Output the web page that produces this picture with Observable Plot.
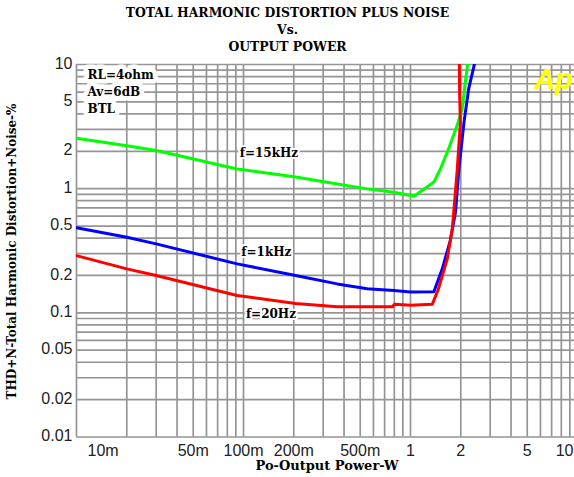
<!DOCTYPE html>
<html><head><meta charset="utf-8">
<script src="https://cdn.jsdelivr.net/npm/d3@7"></script>
<script src="https://cdn.jsdelivr.net/npm/@observablehq/plot@0.6"></script>
<style>body{margin:0;background:#fff;overflow:hidden}</style>
</head><body><div id="chart"></div>
<script>
// f=15kHz
const power15k = [0.01, 0.02, 0.03, 0.0916, 0.205, 0.364, 0.55, 0.794, 1.0, 1.05, 1.38, 1.51, 1.69, 1.90, 2.04, 2.13, 2.2];
const thd15k   = [2.55, 2.22, 2.03, 1.44, 1.24, 1.09, 0.996, 0.935, 0.88, 0.87, 1.13, 1.44, 2.09, 3.22, 4.39, 7.19, 10.2];
// f=1kHz
const power1k = [0.01, 0.02, 0.03, 0.0916, 0.205, 0.364, 0.55, 0.794, 1.0, 1.38, 1.55, 1.73, 1.86, 1.95, 2.09, 2.23, 2.42];
const thd1k   = [0.485, 0.406, 0.359, 0.248, 0.200, 0.171, 0.156, 0.151, 0.147, 0.148, 0.226, 0.382, 0.646, 1.44, 3.42, 6.36, 10.2];
// f=20Hz
const power20 = [0.01, 0.02, 0.03, 0.0916, 0.205, 0.364, 0.78, 0.8, 1.0, 1.35, 1.47, 1.66, 1.78, 1.90, 1.99, 1.97, 1.96];
const thd20   = [0.289, 0.226, 0.200, 0.138, 0.119, 0.112, 0.112, 0.117, 0.115, 0.117, 0.156, 0.272, 0.475, 1.36, 3.42, 5.5, 10.2];

const curveLabels = ["f=15kHz", "f=1kHz", "f=20Hz"];
const curveLabelX = [0.142, 0.137, 0.146];
const curveLabelY = [1.92, 0.308, 0.0968];

const xTicks = [0.05, 0.1, 0.2, 0.5, 1, 2, 5];
const xTickLabels = ["50m", "100m", "200m", "500m", "1", "2", "5"];
const xEdgeTicks = [0.01, 10];
const xEdgeLabels = ["10m", "10"];
const yTicks = [0.01, 0.02, 0.05, 0.1, 0.2, 0.5, 1, 2, 5, 10];
const yTickLabels = ["0.01", "0.02", "0.05", "0.1", "0.2", "0.5", "1", "2", "5", "10"];

const titleLines = ["TOTAL HARMONIC DISTORTION PLUS NOISE", "Vs.", "OUTPUT POWER"];
const notes = "RL=4ohm\nAv=6dB\nBTL";
const xLabel = "Po-Output Power-W";
const yLabel = "THD+N-Total Harmonic Distortion+Noise-%";

const series = [
  ...power15k.map((p, i) => ({p, v: thd15k[i], f: "15k"})),
  ...power1k.map((p, i) => ({p, v: thd1k[i], f: "1k"})),
  ...power20.map((p, i) => ({p, v: thd20[i], f: "20"}))
];
const decadeGrid = [];
for (const base of [0.01, 0.1, 1]) for (let k = 1; k <= 9; k++) decadeGrid.push(+(base * k).toPrecision(3));
decadeGrid.push(10);

const serif = "DejaVu Serif";
const tickFont = {fontFamily: "Liberation Sans", fontSize: 16, fill: "#222"};
const W = 574, H = 477;
const chart = Plot.plot({
  width: W, height: H,
  marginLeft: 76, marginRight: -3, marginTop: 64, marginBottom: 40.5,
  style: {fontFamily: "Liberation Sans, Arial, sans-serif", fontSize: "16px", background: "#fff"},
  x: {type: "log", domain: [0.01, 10], axis: null},
  y: {type: "log", domain: [0.01, 10], axis: null},
  marks: [
    Plot.ruleX(decadeGrid, {stroke: "#959595", strokeWidth: 1.7}),
    Plot.ruleY(decadeGrid, {stroke: "#959595", strokeWidth: 1.7}),
    Plot.line(series.filter(d => d.f === "15k"), {x: "p", y: "v", stroke: "#00ff00", strokeWidth: 3, clip: true}),
    Plot.line(series.filter(d => d.f === "1k"), {x: "p", y: "v", stroke: "#0000ff", strokeWidth: 3, clip: true}),
    Plot.line(series.filter(d => d.f === "20"), {x: "p", y: "v", stroke: "#ff0000", strokeWidth: 3, clip: true}),
    // y tick labels
    Plot.text(yTicks, {y: d => d, text: (d, i) => yTickLabels[i], frameAnchor: "left", textAnchor: "end", lineAnchor: "middle", dx: -4, dy: -1, ...tickFont}),
    // x tick labels
    Plot.text(xTicks, {x: d => d, text: (d, i) => xTickLabels[i], frameAnchor: "bottom", textAnchor: "middle", lineAnchor: "top", dy: 8, ...tickFont}),
    Plot.text([xEdgeTicks[0]], {x: d => d, text: () => xEdgeLabels[0], frameAnchor: "bottom", textAnchor: "start", lineAnchor: "top", dx: 11, dy: 8, ...tickFont}),
    Plot.text([xEdgeTicks[1]], {x: d => d, text: () => xEdgeLabels[1], frameAnchor: "bottom", textAnchor: "end", lineAnchor: "top", dx: -4, dy: 8, ...tickFont}),
    Plot.text(curveLabels, {x: (d, i) => curveLabelX[i], y: (d, i) => curveLabelY[i], text: d => d, fontFamily: serif, fontWeight: "bold", fontSize: 12, fill: "#000", stroke: "#fff", strokeWidth: 4, paintOrder: "stroke"}),
    Plot.text([notes], {frameAnchor: "top-left", textAnchor: "start", lineAnchor: "top", dx: 11, dy: 3, lineHeight: 1.4, fontFamily: serif, fontWeight: "bold", fontSize: 12, fill: "#000", stroke: "#fff", strokeWidth: 9, strokeLinejoin: "round", paintOrder: "stroke"}),
    Plot.text(["Ap"], {frameAnchor: "top-right", textAnchor: "middle", lineAnchor: "middle", dx: -24, dy: 15, fontFamily: "Liberation Sans", fontWeight: "bold", fontStyle: "italic", fontSize: 29, fill: "#ffff00"}),
    Plot.text(titleLines, {frameAnchor: "top", text: d => d, fontFamily: serif, fontWeight: "bold", fontSize: 12.4, fill: "#000", lineAnchor: "middle"}),
    Plot.text([xLabel], {frameAnchor: "bottom", dy: 28.5, fontFamily: serif, fontWeight: "bold", fontSize: 13, fill: "#000", lineAnchor: "middle"}),
    Plot.text([yLabel], {frameAnchor: "left", textAnchor: "middle", fontFamily: serif, fontWeight: "bold", fontSize: 12, fill: "#000", lineAnchor: "middle"})
  ]
});
// place the title lines and the rotated y label
const svg = d3.select(chart);
svg.selectAll("text").filter(function() { return titleLines.includes(this.textContent); })
  .attr("transform", function() {
    const i = titleLines.indexOf(this.textContent);
    return `translate(287,${[16, 33, 50][i]})`;
  }).attr("x", null).attr("y", null);
svg.selectAll("text").filter(function() { return this.textContent === yLabel; })
  .attr("transform", "translate(15,251) rotate(-90)").attr("x", null).attr("y", null)
  .attr("text-anchor", "middle");
document.getElementById("chart").append(chart);
</script>
</body></html>
